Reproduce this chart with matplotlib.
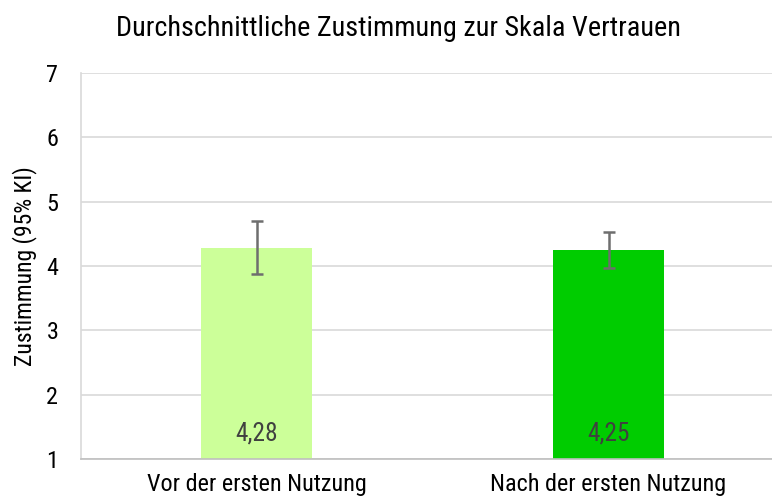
import matplotlib
matplotlib.use("Agg")
import matplotlib.pyplot as plt
import matplotlib.font_manager as fm
from matplotlib.font_manager import FontProperties

# ---- data ----
categories = ["Vor der ersten Nutzung", "Nach der ersten Nutzung"]
means = [4.28, 4.25]
ci_lower = [3.88, 3.97]
ci_upper = [4.70, 4.53]
value_labels = ["4,28", "4,25"]
y_ticks = [1, 2, 3, 4, 5, 6, 7]
title = "Durchschnittliche Zustimmung zur Skala Vertrauen"
y_label = "Zustimmung (95% KI)"
bar_colors = ["#CCFF99", "#00CC00"]


def pick_condensed():
    best = None
    best_rank = 99
    for f in fm.fontManager.ttflist:
        st = f.stretch
        is_cond = ((isinstance(st, str) and "condensed" in st.lower())
                   or (isinstance(st, (int, float)) and st < 100)
                   or "Condensed" in f.name or "Narrow" in f.name
                   or "Condensed" in f.fname or "Narrow" in f.fname)
        if not is_cond:
            continue
        if f.style != "normal":
            continue
        if f.weight not in (400, "normal", "regular", "book"):
            continue
        n = f.name + " " + f.fname
        if "Roboto" in n:
            rank = 0
        elif "Liberation" in n:
            rank = 1
        elif "Open Sans" in n or "OpenSans" in n:
            rank = 2
        elif "Noto" in n:
            rank = 3
        elif "DejaVu" in n:
            rank = 4
        else:
            rank = 5
        if rank < best_rank:
            best_rank = rank
            best = f.fname
    return best


cond_file = pick_condensed()


def fp(size):
    if cond_file:
        return FontProperties(fname=cond_file, size=size)
    return FontProperties(family="Roboto", size=size * 0.88)


W, H = 772, 501
fig = plt.figure(figsize=(W / 100, H / 100), dpi=100)
ax_left, ax_right = 80.5, 784.5
ax_top, ax_bottom = 73, 459
ax = fig.add_axes([ax_left / W, 1 - ax_bottom / H,
                   (ax_right - ax_left) / W, (ax_bottom - ax_top) / H])

x = list(range(len(categories)))
ax.set_axisbelow(True)
ax.yaxis.grid(True, color="#D9D9D9", linewidth=1.2)
ax.bar(x, [m - 1 for m in means], bottom=1, width=0.315, color=bar_colors, zorder=2)
err_low = [m - l for m, l in zip(means, ci_lower)]
err_up = [u - m for m, u in zip(means, ci_upper)]
ax.errorbar(x, means, yerr=[err_low, err_up], fmt="none", ecolor="#6E6E6E",
            elinewidth=1.8, capsize=4.5, capthick=1.8, zorder=3)

for xi, lab in zip(x, value_labels):
    ax.text(xi, 1.4, lab, ha="center", va="center", color="#404040",
            fontproperties=fp(18.3), zorder=4)

ax.set_xlim(-0.5, 1.5)
ax.set_ylim(1, 7)
ax.set_yticks(y_ticks)
ax.set_yticklabels([str(t) for t in y_ticks], fontproperties=fp(17.5))
ax.set_xticks(x)
ax.set_xticklabels(categories, fontproperties=fp(17.4))
ax.tick_params(axis="both", length=0, colors="black")
ax.tick_params(axis="y", pad=16)
ax.tick_params(axis="x", pad=10)

for s in ["top", "right"]:
    ax.spines[s].set_visible(False)
ax.spines["left"].set_color("#D9D9D9")
ax.spines["left"].set_linewidth(1.2)
ax.spines["bottom"].set_color("#BFBFBF")
ax.spines["bottom"].set_linewidth(1.2)

ax.set_ylabel(y_label, fontproperties=fp(17), va="center")
ax.yaxis.set_label_coords((25 - ax_left) / (ax_right - ax_left), 0.5)

fig.text(399 / W, 1 - 28 / H, title, ha="center", va="center",
         fontproperties=fp(20.3), color="black")

fig.savefig("out.png", dpi=100)
